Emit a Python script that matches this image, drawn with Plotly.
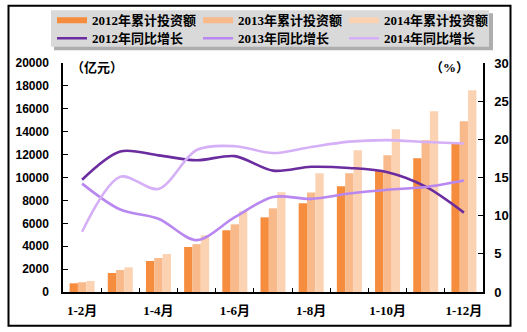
import plotly.graph_objects as go

# ---- data ----
categories = ["1-2月", "1-3月", "1-4月", "1-5月", "1-6月", "1-7月",
              "1-8月", "1-9月", "1-10月", "1-11月", "1-12月"]
tick_labels = ["1-2月", "", "1-4月", "", "1-6月", "", "1-8月", "", "1-10月", "", "1-12月"]

inv_2012 = [760, 1660, 2710, 3930, 5390, 6520, 7750, 9230, 10630, 11680, 12930]
inv_2013 = [850, 1920, 2970, 4180, 5910, 7310, 8700, 10370, 11940, 13250, 14910]
inv_2014 = [960, 2160, 3320, 4950, 7050, 8710, 10370, 12380, 14210, 15780, 17620]

growth_2012 = [14.7, 18.4, 17.9, 17.25, 17.8, 15.9, 16.4, 16.25, 15.7, 13.8, 10.4]
growth_2013 = [14.2, 10.8, 9.6, 6.8, 9.8, 12.45, 12.2, 12.9, 13.4, 13.75, 14.6]
growth_2014 = [7.9, 15.1, 13.5, 18.6, 19.1, 18.2, 19.0, 19.7, 19.9, 19.65, 19.45]

bar_names = ["2012年累计投资额", "2013年累计投资额", "2014年累计投资额"]
line_names = ["2012年同比增长", "2013年同比增长", "2014年同比增长"]

bar_colors = ["#F68C3E", "#F8B98B", "#FBD3B3"]
line_colors = ["#6A2C9E", "#B887F0", "#D5B0F6"]

FONT_TXT = "Liberation Serif, Noto Sans CJK SC, serif"
FONT_NUM = "Liberation Sans, Arial, sans-serif"

fig = go.Figure()

for name, vals, col in zip(bar_names, [inv_2012, inv_2013, inv_2014], bar_colors):
    fig.add_trace(go.Bar(x=categories, y=vals, name=name, marker_color=col,
                         marker_line_width=0, showlegend=False, yaxis="y"))

for name, vals, col in zip(line_names, [growth_2012, growth_2013, growth_2014], line_colors):
    fig.add_trace(go.Scatter(x=categories, y=vals, name=name, mode="lines",
                             line=dict(color=col, width=2.6, shape="spline", smoothing=0.9),
                             yaxis="y2", legend="legend2"))

# legend entries for the bars (thick swatches)
for name, col in zip(bar_names, bar_colors):
    fig.add_trace(go.Scatter(x=[None], y=[None], name=name, mode="lines",
                             line=dict(color=col, width=6), yaxis="y2",
                             legend="legend", showlegend=True))

# paper conversions (plot area 63..483 x, 62.7..291.7 y)
def px(xp):
    return (xp - 63) / 420.0

def py(yp):
    return (291.7 - yp) / 229.0

shapes = [
    # legend shadow
    dict(type="rect", xref="paper", yref="paper", x0=px(54), x1=px(493), y0=py(50), y1=py(13),
         fillcolor="#9A9A9A", line_width=0, layer="below", opacity=0.8),
    # legend background
    dict(type="rect", xref="paper", yref="paper", x0=px(51), x1=px(489), y0=py(46.5), y1=py(10),
         fillcolor="#D9D9D9", line_width=0, layer="below"),
    # outer frame
    dict(type="rect", xref="paper", yref="paper", x0=px(8.5), x1=px(510.5), y0=py(325.5), y1=py(5.5),
         line=dict(color="black", width=2), fillcolor="rgba(0,0,0,0)", layer="below"),
]

legend_common = dict(orientation="h", xref="paper", yref="paper",
                     xanchor="left", yanchor="middle", bgcolor="rgba(0,0,0,0)",
                     borderwidth=0, itemwidth=30, entrywidthmode="pixels", entrywidth=101,
                     font=dict(family=FONT_TXT, size=13, color="black", weight="bold"),
                     tracegroupgap=0, itemclick=False, itemdoubleclick=False)

fig.update_layout(
    width=527, height=332,
    margin=dict(l=63, r=44, t=63, b=40, autoexpand=False),
    paper_bgcolor="white", plot_bgcolor="white",
    barmode="group", bargap=0.345, bargroupgap=0,
    showlegend=True,
    legend=dict(x=px(52), y=py(20), **legend_common),
    legend2=dict(x=px(52), y=py(38), **legend_common),
    xaxis=dict(type="category", tickmode="array", tickvals=categories, ticktext=tick_labels,
               tickson="boundaries", ticks="inside", ticklen=4, tickcolor="black",
               showline=True, linecolor="black", linewidth=1.5, showgrid=False,
               tickangle=0,
               tickfont=dict(family=FONT_TXT, size=13, color="black", weight="bold"),
               ticklabelstandoff=6),
    yaxis=dict(range=[0, 20000], dtick=2000, ticks="inside", ticklen=5, tickcolor="black",
               tickformat="d",
               showline=True, linecolor="black", linewidth=1.5, showgrid=False, zeroline=False,
               tickfont=dict(family=FONT_NUM, size=12, color="black", weight="bold"),
               ticklabelstandoff=10),
    yaxis2=dict(range=[0, 30], dtick=5, overlaying="y", side="right", ticks="inside", ticklen=5,
                tickcolor="black", showline=True, linecolor="black", linewidth=1.5,
                showgrid=False, zeroline=False,
                tickfont=dict(family=FONT_NUM, size=13, color="black", weight="bold"),
                ticklabelstandoff=7),
    shapes=shapes,
    annotations=[
        dict(text="（亿元）", xref="paper", yref="paper", x=px(97), y=py(67), showarrow=False,
             xanchor="center", yanchor="middle",
             font=dict(family=FONT_TXT, size=13, color="black", weight="bold")),
        dict(text="（%）", xref="paper", yref="paper", x=px(449), y=py(67), showarrow=False,
             xanchor="center", yanchor="middle",
             font=dict(family=FONT_TXT, size=13, color="black", weight="bold")),
    ],
)

fig.write_html("out.html")
